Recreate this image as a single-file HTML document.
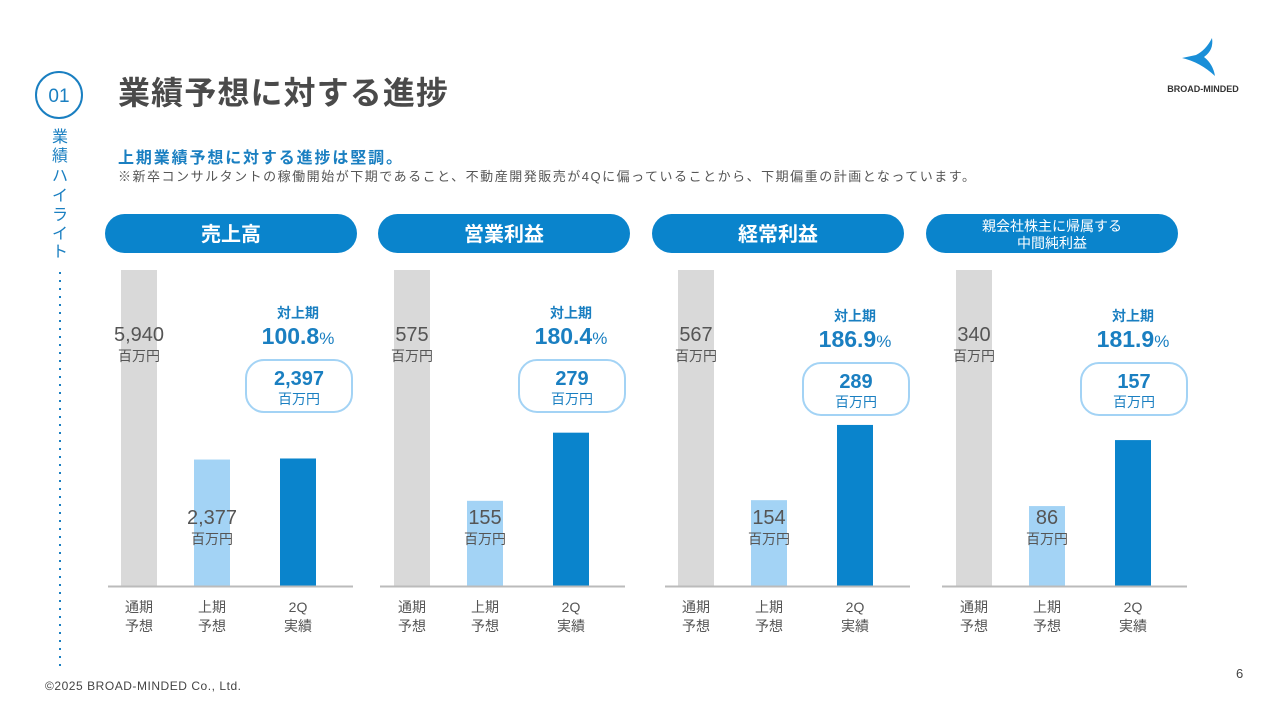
<!DOCTYPE html>
<html><head><meta charset="utf-8">
<style>
body{margin:0;width:1280px;height:720px;background:#fff;overflow:hidden;font-family:"Liberation Sans","Noto Sans CJK JP",sans-serif;}
svg text{font-family:"Liberation Sans","Noto Sans CJK JP",sans-serif;}
</style></head>
<body>
<svg id="chart" width="1280" height="720" viewBox="0 0 1280 720">
  <circle cx="59" cy="95" r="23" fill="none" stroke="#1a7fc1" stroke-width="2"/>
  <text x="59" y="102" text-anchor="middle" font-size="19" fill="#1a7fc1">01</text>
  <text x="118" y="104" font-size="32" font-weight="bold" fill="#4a4a4a" textLength="330">業績予想に対する進捗</text>
  <g fill="#1a7fc1" font-size="16" text-anchor="middle">
    <text x="60" y="142">業</text><text x="60" y="161">績</text><text x="60" y="181">ハ</text><text x="60" y="201">イ</text><text x="60" y="220">ラ</text><text x="60" y="239">イ</text><text x="60" y="257">ト</text>
  </g>
  <line x1="60" y1="272" x2="60" y2="666" stroke="#1a7fc1" stroke-width="2" stroke-dasharray="2,6"/>
  <text x="118" y="163" font-size="16" font-weight="bold" fill="#1a7fc1" textLength="284">上期業績予想に対する進捗は堅調。</text>
  <text x="118" y="181" font-size="13" fill="#555" textLength="857">※新卒コンサルタントの稼働開始が下期であること、不動産開発販売が4Qに偏っていることから、下期偏重の計画となっています。</text>
  <g>
    <path d="M1212 38 Q1206 50 1196 55 L1182 58 Q1200 62 1215 76 Q1213 64 1204 57 Q1214 50 1212 38 Z" fill="#1a8fd8"/>
    <text x="1203" y="92" text-anchor="middle" font-size="9" font-weight="bold" fill="#333">BROAD-MINDED</text>
  </g>
  <text x="45" y="690" font-size="12" fill="#444" textLength="196">©2025 BROAD-MINDED Co., Ltd.</text>
  <text x="1236" y="678" font-size="13" fill="#444">6</text>
  <g id="panels"></g>
</svg>
<script>
const panelTitles = [["売上高"],["営業利益"],["経常利益"],["親会社株主に帰属する","中間純利益"]];
const fullYearPlan = [5940, 575, 567, 340];
const firstHalfPlan = [2377, 155, 154, 86];
const actual2Q = [2397, 279, 289, 157];
const progressRates = ["100.8", "180.4", "186.9", "181.9"];
const categories = [["通期","予想"],["上期","予想"],["2Q","実績"]];

const NS = "http://www.w3.org/2000/svg";
const pillX = [105, 378, 652, 926];
const barStart = [121, 394, 678, 956];
const axisStart = [108, 380, 665, 942];
const baseY = 586, topY = 270;
function yScale(v, max){ return baseY - (v / max) * (baseY - topY); }
function el(tag, attrs, parent, txt){
  const e = document.createElementNS(NS, tag);
  for (const k in attrs) e.setAttribute(k, attrs[k]);
  if (txt !== undefined) e.textContent = txt;
  parent.appendChild(e); return e;
}
function fmt(v){ return v.toLocaleString("en-US"); }
const root = document.getElementById("panels");
for (let i = 0; i < 4; i++){
  const x0 = pillX[i];
  const g = el("g", {}, root);
  
  
  const pill = el("rect", {x:x0, y:214, width:252, height:39, rx:19.5, fill:"#0a84cc"}, g);
  
  
  const t = panelTitles[i];
  if (t.length === 1){
    const ht = el("text", {x:x0+126, y:241, "text-anchor":"middle", "font-size":20, "font-weight":"bold", fill:"#fff"}, g, t[0]);
    
    
  } else {
    t.forEach((s, j) => {
      const ht = el("text", {x:x0+126, y:231 + j*17, "text-anchor":"middle", "font-size":14, fill:"#fff"}, g, s);
      
      
    });
  }
  const max = fullYearPlan[i];
  const s0 = barStart[i];
  const bx = [s0, s0+73, s0+159];
  const vals = [fullYearPlan[i], firstHalfPlan[i], actual2Q[i]];
  const cols = ["#d9d9d9", "#a3d3f5", "#0a84cc"];
  const names = ["bar-full-year-plan", "bar-first-half-plan", "bar-2q-actual"];
  vals.forEach((v, j) => {
    const y = yScale(v, max);
    const b = el("rect", {x:bx[j], y:y, width:36, height:baseY - y, fill:cols[j]}, g);
    
    
    categories[j].forEach((s, k) => {
      const c = el("text", {x:bx[j]+18, y:612 + k*19, "text-anchor":"middle", "font-size":14, fill:"#555"}, g, s);
      
      
    });
  });
  const ax = el("line", {x1:axisStart[i], x2:axisStart[i]+245, y1:baseY+0.5, y2:baseY+0.5, stroke:"#bbb", "stroke-width":2}, g);
  
  
  const l1 = el("text", {x:bx[0]+18, y:341, "text-anchor":"middle", "font-size":20, fill:"#555"}, g, fmt(vals[0]));
  
  
  const u1 = el("text", {x:bx[0]+18, y:361, "text-anchor":"middle", "font-size":14, fill:"#555"}, g, "百万円");
  
  
  const ly = 524;
  const l2 = el("text", {x:bx[1]+18, y:ly, "text-anchor":"middle", "font-size":20, fill:"#555"}, g, fmt(vals[1]));
  
  
  const u2 = el("text", {x:bx[1]+18, y:ly+20, "text-anchor":"middle", "font-size":14, fill:"#555"}, g, "百万円");
  
  
  const off = (i >= 2) ? 3 : 0;
  const cx = bx[2] + 18;
  const r1 = el("text", {x:cx, y:318+off, "text-anchor":"middle", "font-size":14, "font-weight":"bold", fill:"#1a7fc1"}, g, "対上期");
  
  
  const r2 = el("text", {x:cx, y:344+off, "text-anchor":"middle", "font-size":23, "font-weight":"bold", fill:"#1a7fc1"}, g);
  
  
  el("tspan", {}, r2, progressRates[i]);
  el("tspan", {"font-size":17, "font-weight":"normal"}, r2, "%");
  const box = el("rect", {x:cx-52, y:360+off, width:106, height:52, rx:18, fill:"#fff", stroke:"#a3d3f5", "stroke-width":2}, g);
  
  
  const a1 = el("text", {x:cx+1, y:385+off, "text-anchor":"middle", "font-size":20, "font-weight":"bold", fill:"#1a7fc1"}, g, fmt(vals[2]));
  
  
  const a2 = el("text", {x:cx+1, y:404+off, "text-anchor":"middle", "font-size":14, fill:"#1a7fc1"}, g, "百万円");
  
  
}
</script>
</body></html>
